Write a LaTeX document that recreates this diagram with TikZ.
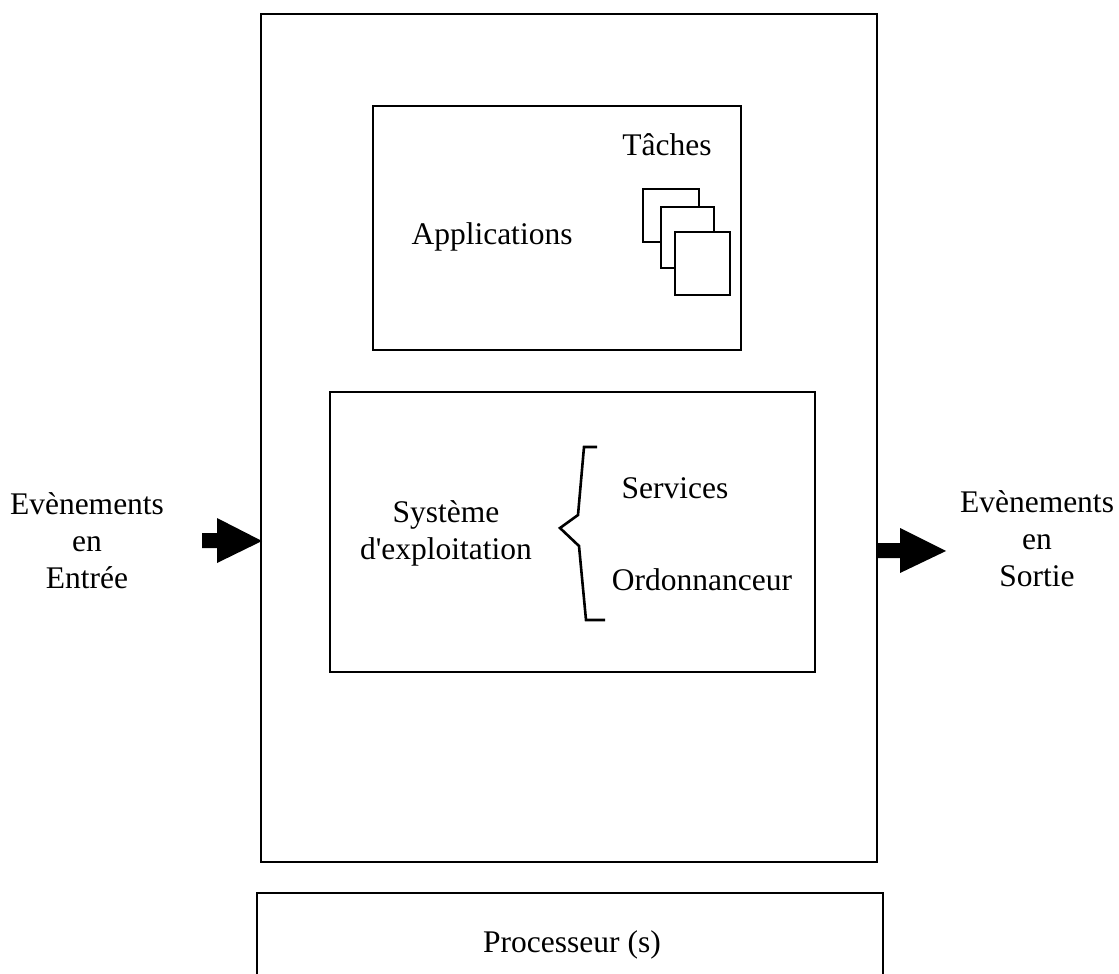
\documentclass[tikz,border=0pt]{standalone}
\usepackage{fontspec}
\newfontfamily\lib{Liberation Serif}
\tikzset{
  txt/.style={font={\lib\fontsize{31.5}{37}\selectfont}, align=center, inner sep=0pt},
  boxn/.style={draw, line width=2.6pt, inner sep=0pt},
  sq/.style={draw, fill=white, line width=2.6pt, inner sep=0pt},
  brc/.style={line width=2.6pt, line join=miter},
  arr/.style={fill=black}
}
\begin{document}
\begin{tikzpicture}[x=1pt,y=-1pt]
\useasboundingbox (0,0) rectangle (1119,974);
% outer box
\node[boxn, minimum width=616, minimum height=848] (outer) at (569,438) {};
% applications box
\node[boxn, minimum width=368, minimum height=244] (apps) at (557,228) {};
\node[txt] (appsT) at (492,237) {Applications};
\node[txt] (tach) at (667,145) {Tâches};
\node[sq, minimum width=56, minimum height=53] (sq1) at (671,215.5) {};
\node[sq, minimum width=53, minimum height=61] (sq2) at (687.5,237.5) {};
\node[sq, minimum width=55, minimum height=63] (sq3) at (702.5,263.5) {};
% OS box
\node[boxn, minimum width=485, minimum height=280] (os) at (572.5,532) {};
\node[txt] (sys) at (446,533) {Système\\d'exploitation};
\node[txt] (serv) at (675,488) {Services};
\node[txt] (ord) at (702,580) {Ordonnanceur};
\coordinate (b1) at (597,447);
\coordinate (b2) at (584,447);
\coordinate (b3) at (578,515);
\coordinate (b4) at (560,528);
\coordinate (b5) at (579,546);
\coordinate (b6) at (586,620);
\coordinate (b7) at (605,620);
\draw[brc] (b1) -- (b2) -- (b3) -- (b4) -- (b5) -- (b6) -- (b7);
% processor box
\node[boxn, minimum width=626, minimum height=110] (proc) at (570,948) {};
\node[txt] (procT) at (572,945) {Processeur (s)};
% input / output labels
\node[txt] (inL) at (87,541) {Evènements\\en\\Entrée};
\node[txt] (outL) at (1037,539) {Evènements\\en\\Sortie};
% arrows
\coordinate (inTip) at (262,541);
\coordinate (outTip) at (946,551);
\fill[arr] (inTip) -- ++(-45,-23) -- ++(0,15) -- ++(-15,0) -- ++(0,15) -- ++(15,0) -- ++(0,15) -- cycle;
\fill[arr] (outTip) -- ++(-46,-23) -- ++(0,15) -- ++(-23,0) -- ++(0,15) -- ++(23,0) -- ++(0,15) -- cycle;
\end{tikzpicture}
\end{document}
